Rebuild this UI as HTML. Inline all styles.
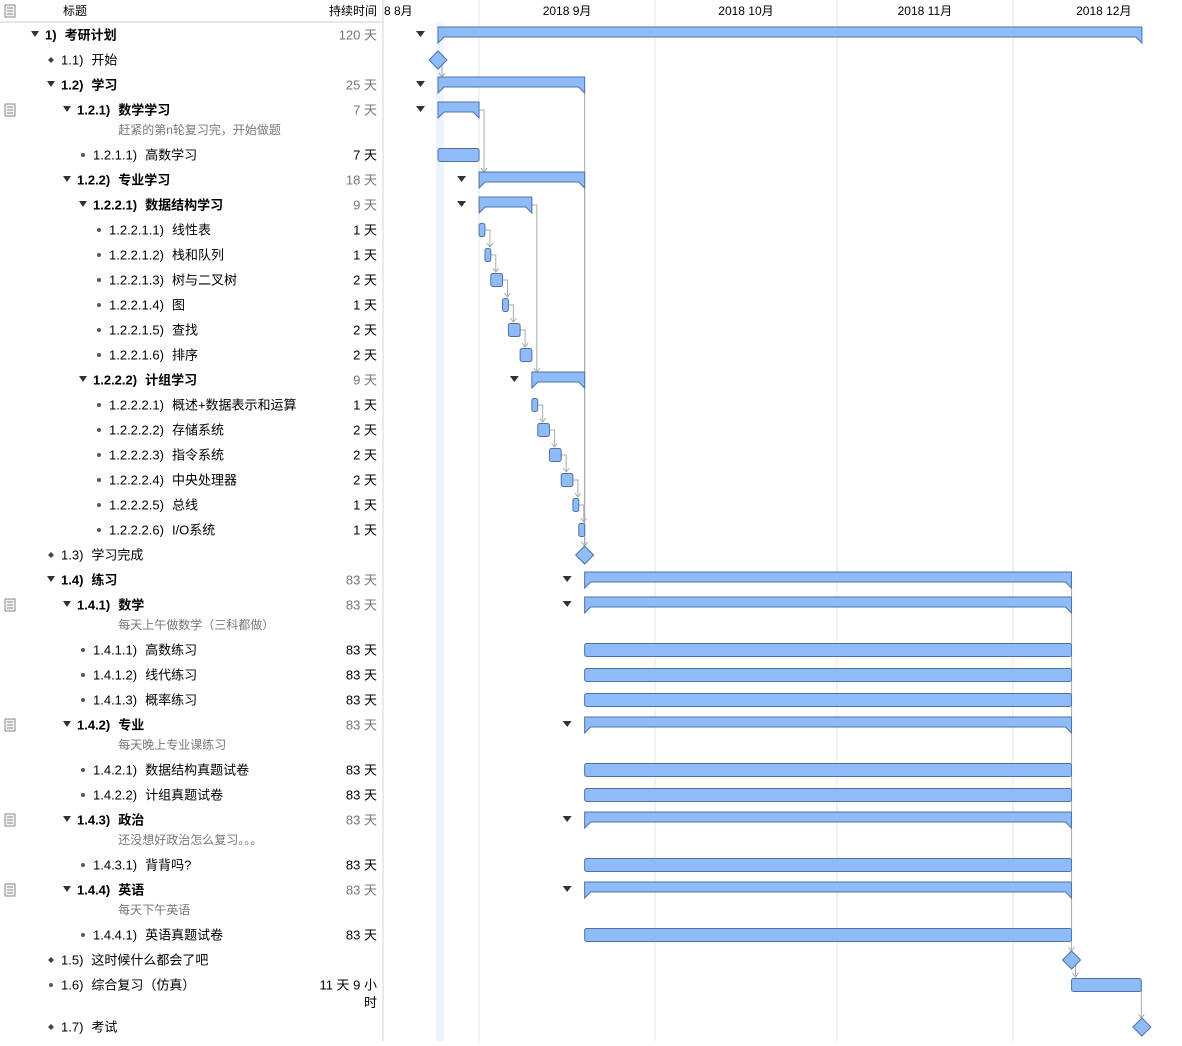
<!DOCTYPE html>
<html><head><meta charset="utf-8">
<style>
html,body{margin:0;padding:0;background:#fff;}
body{width:1182px;height:1041px;overflow:hidden;font-family:"Liberation Sans","Noto Sans CJK SC",sans-serif;}
svg text{font-family:"Liberation Sans","Noto Sans CJK SC",sans-serif;}
</style></head>
<body>
<svg id="g" width="1182" height="1041" xmlns="http://www.w3.org/2000/svg">
  <rect x="436" y="22" width="8" height="1019" fill="#eef5fe"/>
  <g id="grid"></g>
  <line x1="383" y1="0" x2="383" y2="1041" stroke="#d6d6d6"/>
  <line x1="0" y1="22" x2="383" y2="22" stroke="#cfcfcf"/>
  <g><rect x="5" y="5" width="10" height="12" fill="#f4f4f4" stroke="#888"/><line x1="7" y1="8" x2="13" y2="8" stroke="#888"/><line x1="7" y1="11" x2="13" y2="11" stroke="#888"/><line x1="7" y1="14" x2="13" y2="14" stroke="#888"/></g>
  <text x="63" y="15" font-size="12">标题</text>
  <text x="377" y="15" font-size="12" text-anchor="end">持续时间</text>
  <g id="months"></g>
  <g id="rows"></g>
  <g id="deps"></g>
  <g id="bars"></g>
</svg>
<script>
const ids=["1)","1.1)","1.2)","1.2.1)","","1.2.1.1)","1.2.2)","1.2.2.1)","1.2.2.1.1)","1.2.2.1.2)","1.2.2.1.3)","1.2.2.1.4)","1.2.2.1.5)","1.2.2.1.6)","1.2.2.2)","1.2.2.2.1)","1.2.2.2.2)","1.2.2.2.3)","1.2.2.2.4)","1.2.2.2.5)","1.2.2.2.6)","1.3)","1.4)","1.4.1)","","1.4.1.1)","1.4.1.2)","1.4.1.3)","1.4.2)","","1.4.2.1)","1.4.2.2)","1.4.3)","","1.4.3.1)","1.4.4)","","1.4.4.1)","1.5)","1.6)","1.7)"];
const names=["考研计划","开始","学习","数学学习","赶紧的第n轮复习完，开始做题","高数学习","专业学习","数据结构学习","线性表","栈和队列","树与二叉树","图","查找","排序","计组学习","概述+数据表示和运算","存储系统","指令系统","中央处理器","总线","I/O系统","学习完成","练习","数学","每天上午做数学（三科都做）","高数练习","线代练习","概率练习","专业","每天晚上专业课练习","数据结构真题试卷","计组真题试卷","政治","还没想好政治怎么复习。。。","背背吗?","英语","每天下午英语","英语真题试卷","这时候什么都会了吧","综合复习（仿真）","考试"];
const levels=[0,1,1,2,2,3,2,3,4,4,4,4,4,4,3,4,4,4,4,4,4,1,1,2,2,3,3,3,2,2,3,3,2,2,3,2,2,3,1,1,1];
const kinds=["S","M","S","S","N","T","S","S","T","T","T","T","T","T","S","T","T","T","T","T","T","M","S","S","N","T","T","T","S","N","T","T","S","N","T","S","N","T","M","T","M"];
const startDays=[0,0,0,0,0,0,7,7,7,8,9,11,12,14,16,16,17,19,21,23,24,25,25,25,0,25,25,25,25,0,25,25,25,0,25,25,0,25,108,108,120];
const durations=[120,0,25,7,0,7,18,9,1,1,2,1,2,2,9,1,2,2,2,1,1,0,83,83,0,83,83,83,83,0,83,83,83,0,83,83,0,83,0,11.9,0];
const durLabels=["120 天","","25 天","7 天","","7 天","18 天","9 天","1 天","1 天","2 天","1 天","2 天","2 天","9 天","1 天","2 天","2 天","2 天","1 天","1 天","","83 天","83 天","","83 天","83 天","83 天","83 天","","83 天","83 天","83 天","","83 天","83 天","","83 天","","11 天 9 小",""];
const monthLabels=["8 8月","2018 9月","2018 10月","2018 11月","2018 12月"];
const monthStartDays=[-24,7,37,68,98];
const monthEndDays=[7,37,68,98,129];
const depFrom=[1,3,8,9,10,11,12,7,15,16,17,18,19,2,6,20,22,38,39];
const depTo=[2,6,9,10,11,12,13,14,16,17,18,19,20,21,21,21,38,39,40];

const NS="http://www.w3.org/2000/svg";
const X0=438,PX=5.866;
const xd=d=>X0+d*PX;
function el(t,a,p){const e=document.createElementNS(NS,t);for(const k in a)e.setAttribute(k,a[k]);p.appendChild(e);return e;}
const ys=[];let y=35;
for(let i=0;i<ids.length;i++){
  if(kinds[i]==="N"){ys.push(y-5);y+=20;}else{ys.push(y);y+=25;}
}
ys[ys.length-1]=1027;
const G=document.getElementById('grid'),MO=document.getElementById('months'),R=document.getElementById('rows'),B=document.getElementById('bars'),D=document.getElementById('deps');
for(let m=0;m<monthLabels.length;m++){
  const xs=xd(monthStartDays[m]),xe=xd(monthEndDays[m]);
  if(m>0){const l=el('line',{x1:xs,y1:0,x2:xs,y2:1041,stroke:'#e6e6e6'},G);
    
    }
  const t=el('text',{x:m===0?384:(xs+xe)/2,y:15,'font-size':12,'text-anchor':m===0?'start':'middle'},MO);
  t.textContent=monthLabels[m];
  
  
}
let lastNameX=0;
for(let i=0;i<ids.length;i++){
  const cy=ys[i],lv=levels[i],k=kinds[i];
  const bx=35+lv*16;
  if(k==="N"){
    const t=el('text',{x:lastNameX,y:cy+4,'font-size':12,fill:'#777'},R);
    t.textContent=names[i];
    
    
    continue;
  }
  const g=el('g',{},R);
  
  
  if(k==="S"){el('path',{d:`M${bx-4} ${cy-4}h8l-4 6z`,fill:'#333'},g);}
  else if(k==="M"){el('path',{d:`M${bx} ${cy-3}l3 3l-3 3l-3 -3z`,fill:'#444'},g);}
  else{el('circle',{cx:bx,cy:cy,r:2,fill:'#555'},g);}
  const bold=k==="S";
  const t=el('text',{x:bx+10,y:cy+4.5,'font-size':13,'font-weight':bold?'bold':'normal'},g);
  t.textContent=ids[i];
  const w=t.getComputedTextLength();
  lastNameX=bx+10+w+8;
  const t2=el('text',{x:lastNameX,y:cy+4.5,'font-size':13,'font-weight':bold?'bold':'normal'},g);
  t2.textContent=names[i];
  if(durLabels[i]){
    const d=el('text',{x:377,y:cy+4.5,'font-size':13,'text-anchor':'end',fill:bold?'#777':'#000'},g);
    d.textContent=durLabels[i];
    if(i===39){const d2=el('text',{x:377,y:cy+22,'font-size':13,'text-anchor':'end'},g);d2.textContent="时";}
  }
  if(i+1<ids.length&&kinds[i+1]==="N"){
    const n=el('g',{},R);
    
    
    el('rect',{x:5,y:cy-6,width:10,height:12,fill:'#f4f4f4',stroke:'#888'},n);
    for(let j=0;j<3;j++)el('line',{x1:7,y1:cy-3+j*3,x2:13,y2:cy-3+j*3,stroke:'#888'},n);
  }
  const x1=xd(startDays[i]),x2=xd(startDays[i]+durations[i]);
  const fill='#8fbcf8',st='#4f72a3';
  if(k==="S"){
    const tri=el('path',{d:`M${x1-22} ${cy-4}h9l-4.5 6z`,fill:'#333'},B);
    
    
    const p=el('path',{d:`M${x1} ${cy-8}H${x2}V${cy+8}l-6 -6H${x1+6}l-6 6z`,fill:fill,stroke:st,'stroke-width':1},B);
    
    
  }else if(k==="M"){
    const p=el('path',{d:`M${x1} ${cy-9}l9 9l-9 9l-9 -9z`,fill:fill,stroke:st},B);
    
    
  }else{
    const r=el('rect',{x:x1,y:cy-6.5,width:Math.max(x2-x1,4),height:13,rx:2,fill:fill,stroke:st},B);
    
    
  }
}
for(let j=0;j<depFrom.length;j++){
  const a=depFrom[j],b=depTo[j];
  let ex=xd(startDays[a]+durations[a]);
  if(kinds[a]==="M")ex+=4;
  const sx=xd(startDays[b])+(kinds[b]==="M"?0:5);
  const top=ys[b]-(kinds[b]==="M"?9:8);
  const cx=Math.abs(sx-ex)<2?ex:Math.max(ex+4,sx);
  const p=el('path',{d:`M${ex} ${ys[a]}H${cx}V${top}`,fill:'none',stroke:'#aaa','stroke-width':1},D);
  
  
  el('path',{d:`M${cx-3} ${top-4}L${cx} ${top}L${cx+3} ${top-4}`,fill:'none',stroke:'#aaa'},D);
}
</script>
</body></html>
